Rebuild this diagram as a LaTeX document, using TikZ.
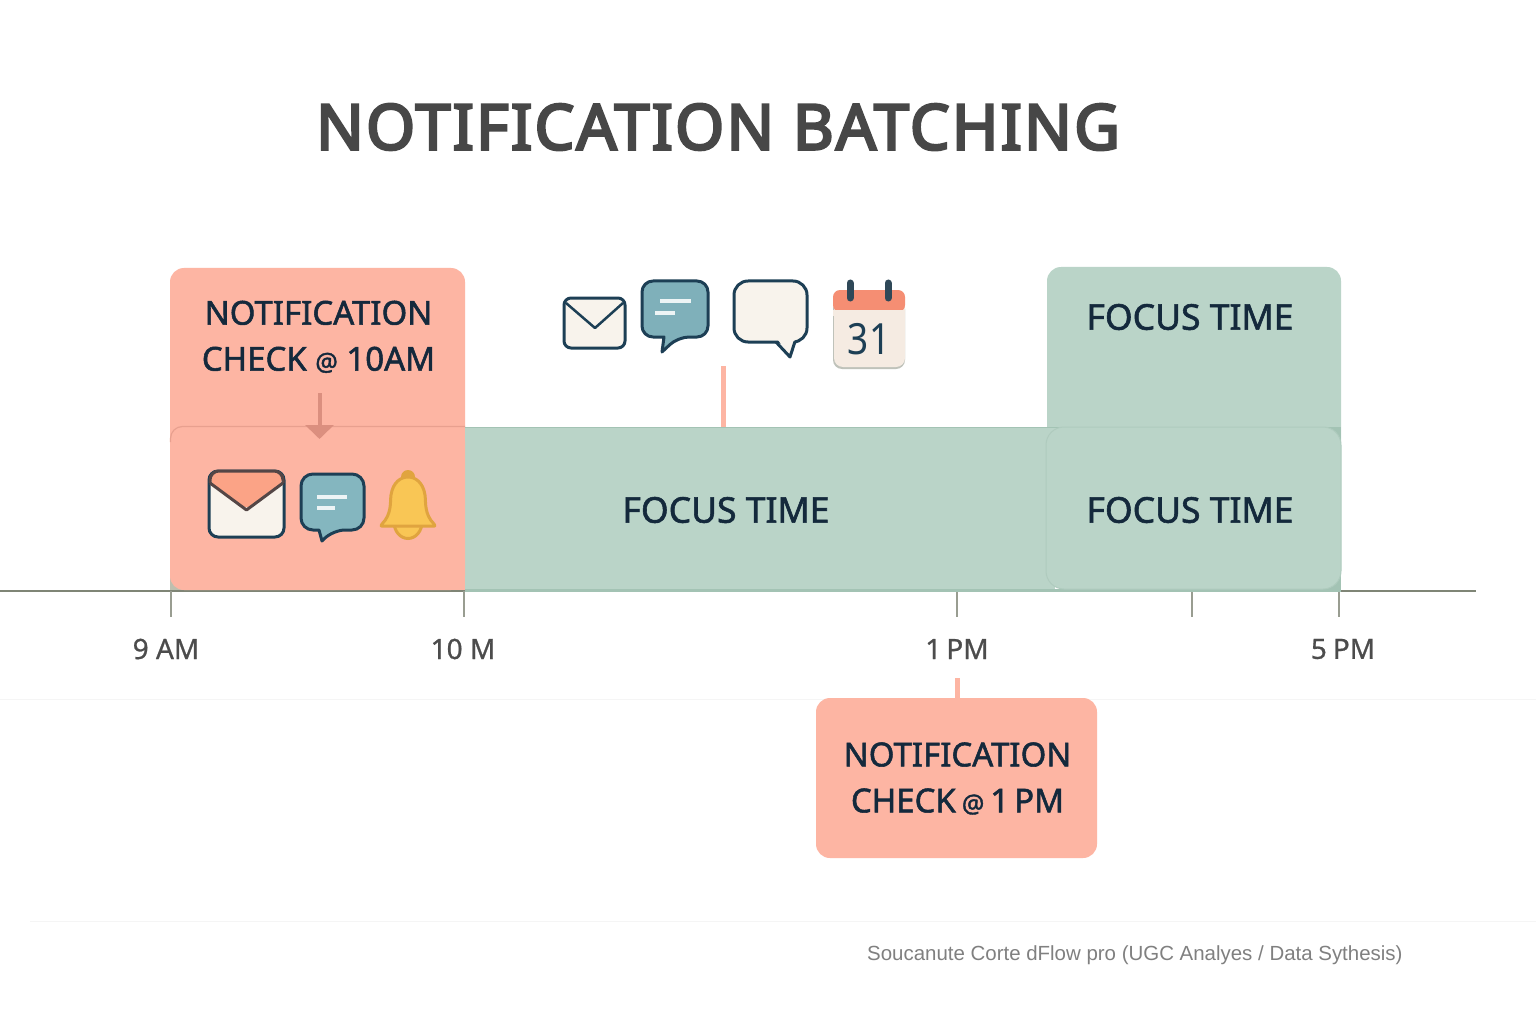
\documentclass[tikz,border=0pt]{standalone}
\usepackage{fontspec}
\setmainfont{Noto Sans}
\newfontfamily\medf[FakeBold=1.6]{Noto Sans}
\newfontfamily\tickf[FakeBold=0.8]{Noto Sans}
\newfontfamily\titlef[FakeBold=4,LetterSpace=3.4]{Noto Sans}
\newfontfamily\footf{Liberation Sans}
\usetikzlibrary{arrows.meta}
\definecolor{peach}{HTML}{FDB5A3}
\definecolor{peachd}{HTML}{E8A08F}
\definecolor{arrowc}{HTML}{DB8F7F}
\definecolor{sage}{HTML}{BAD4C8}
\definecolor{saged}{HTML}{A3C3B4}
\definecolor{ink}{HTML}{14293C}
\definecolor{navy}{HTML}{1D3F55}
\definecolor{teal}{HTML}{84B6BF}
\definecolor{cream}{HTML}{F8F3EC}
\definecolor{axisc}{HTML}{7F8576}
\definecolor{flap}{HTML}{FBA386}
\definecolor{calhead}{HTML}{F58E73}
\definecolor{calring}{HTML}{2F4858}
\definecolor{calbody}{HTML}{F5EBE2}
\definecolor{bellf}{HTML}{F9C655}
\definecolor{bells}{HTML}{E0A43F}
\newcommand{\smat}{{\fontsize{25}{25}\selectfont @}}
\tikzset{
  panel/.style={inner sep=0pt,outer sep=0pt,anchor=north west},
  peachbox/.style={panel,fill=peach,rounded corners=14pt},
  sagebox/.style={panel,fill=sage,rounded corners=14pt},
  boxtext/.style={font=\medf\fontsize{33}{46}\selectfont,text=ink,align=center,inner sep=0pt},
  focustext/.style={font=\medf\fontsize{35.5}{46}\selectfont,text=ink,align=center,inner sep=0pt},
  ticklab/.style={font=\tickf\fontsize{28}{30}\selectfont,text=black!70,inner sep=0pt},
  axisline/.style={draw=axisc,line width=2pt},
  tickline/.style={draw=axisc!80,line width=1.6pt},
  iconline/.style={draw=navy,line width=3pt,line join=round},
  faint/.style={draw=black!4,line width=1pt},
  stemline/.style={draw=peach,line width=5pt},
  barline/.style={draw=white!85!teal,line width=4pt}
}
\begin{document}
\begin{tikzpicture}[x=1pt,y=-1pt]
\useasboundingbox (0,0) rectangle (1536,1024);
\fill[white] (0,0) rectangle (1536,1024);
% faint guide lines
\draw[faint] (0,699) -- (1536,699);
\draw[faint] (30,921) -- (1536,921);
% title
\node[font=\titlef\fontsize{63}{70}\selectfont,text=black!72,inner sep=0pt] (title) at (718,127) {NOTIFICATION BATCHING};
% top boxes
\node[peachbox,minimum width=295pt,minimum height=190pt] (peachtop) at (170,268) {};
\node[sagebox,minimum width=294pt,minimum height=190pt] (sagetop) at (1047,267) {};
% axis
\draw[axisline] (0,591) coordinate (axL) -- (1476,591) coordinate (axR);
\foreach \n/\x in {a/171,b/464,c/957,d/1192,e/1339}{
  \coordinate (t\n) at (\x,591);
  \coordinate (u\n) at (\x,617);
  \draw[tickline] (t\n) -- (u\n);
}
% lower bands
\fill[saged] (1300,427) rectangle (1341,590);
\fill[saged!70!peach] (170,560) rectangle (200,590);
\fill[peach] (440,427) rectangle (465,590);
\node[panel,fill=sage,minimum width=590pt,minimum height=163pt] (sagemid) at (465,427) {};
\fill[saged] (465,589) rectangle (1341,592);
\draw[saged,line width=1pt] (465,427) -- (1341,427);
\node[sagebox,rounded corners=18pt,draw=saged!50!sage,line width=1pt,minimum width=295pt,minimum height=162pt] (sagelow) at (1046,427) {};
\node[peachbox,minimum width=295pt,minimum height=163pt] (peachlow) at (170,427) {};
\draw[peachd,line width=1.2pt,rounded corners=12pt] (170.5,442) -- (170.5,426.5) -- (465,426.5);
\node[boxtext] (t1) at (318.5,336.8) {NOTIFICATION\\CHECK \smat\ 10AM};
\node[focustext] (t2) at (1190,317) {FOCUS TIME};
\node[focustext] (t3) at (726,510) {FOCUS TIME};
\node[focustext] (t4) at (1190,510) {FOCUS TIME};
% arrow from label box to band
\coordinate (arrA) at (319.5,393);
\coordinate (arrB) at (319.5,439);
\draw[arrowc,line width=4pt,-{Triangle[length=14pt,width=28pt]}] (arrA) -- (arrB);
% pink stem
\coordinate (stA) at (723,366);
\coordinate (stB) at (723,427);
\draw[stemline] (stA) -- (stB);
% bottom box
\coordinate (stC) at (957,678);
\node[peachbox,minimum width=281pt,minimum height=160pt] (peachbot) at (816,698) {};
\draw[stemline] (stC) -- (stC |- peachbot.north);
\node[boxtext] (t5) at (957.5,778.5) {NOTIFICATION\\CHECK\hspace{6pt}\smat\hspace{6pt}1\hspace{5pt}PM};
% axis labels
\node[ticklab] (l9) at (166,649) {9 AM};
\node[ticklab] (l10) at (463,649) {10 M};
\node[ticklab] (l1) at (957,649) {1\hspace{5pt}PM};
\node[ticklab] (l5) at (1343,649) {5\hspace{6pt}PM};
% footer
\node[font=\footf\fontsize{20.45}{22}\selectfont,text=black!50,inner sep=0pt,anchor=west] (src) at (867,955) {Soucanute Corte dFlow pro (UGC Analyes / Data Sythesis)};
% envelope 1
\draw[iconline,fill=cream,rounded corners=9pt] (209,471) rectangle (284,537);
\fill[flap,rounded corners=8pt] (210,483) -- (210,472) -- (283,472) -- (283,483) -- (246.5,510) -- cycle;
\draw[iconline,draw=navy!45!peachd!60!black] (210,483) -- (246.5,510) -- (283,483);
\draw[iconline,draw=navy!45!peachd!60!black,rounded corners=9pt] (210,483) -- (210,471) -- (283,471) -- (283,483);
% bubble 1
\draw[iconline,fill=teal] (301,500) [rounded corners=12pt] -- (301,474) -- (364,474) -- (364,530) -- (333,530) [sharp corners] -- (322,541) -- (319,530) [rounded corners=12pt] -- (301,530) -- cycle;
\draw[barline] (317,497) -- (347,497);
\draw[barline] (317,508) -- (335,508);
% bell
\fill[bells] (408,477) circle (7pt);
\fill[bellf,draw=bells,line width=3pt] (408,522) ellipse (14pt and 16.5pt);
\draw[bells,fill=bellf,line width=3pt,line join=round] (382,524) .. controls (392,514) and (390,502) .. (391,495) .. controls (393,482) and (401,477) .. (408,477) .. controls (415,477) and (423,482) .. (425,495) .. controls (426,502) and (424,514) .. (434,524) .. controls (436,527) and (434,526) .. (432,526) -- (384,526) .. controls (382,526) and (380,527) .. (382,524) -- cycle;
% envelope 2
\draw[iconline,fill=cream,rounded corners=7pt] (564,298) rectangle (625,348);
\draw[iconline,line width=2.5pt] (566,303) -- (595,328) -- (623,303);
% bubble 2
\draw[iconline,fill=teal!95!navy] (642,310) [rounded corners=11pt] -- (642,281) -- (708,281) -- (708,337) -- (678,337) [sharp corners] -- (662,352) -- (664,337) [rounded corners=11pt] -- (642,337) -- cycle;
\draw[barline] (660,301) -- (691,301);
\draw[barline] (655,313) -- (675,313);
% bubble 3
\draw[iconline,fill=cream,rounded corners=14pt] (734,281) rectangle (807,342);
\fill[cream] (778,340) -- (790,356) -- (794.5,340) -- cycle;
\draw[iconline] (776,342) -- (790,357) -- (795,341.5);
% calendar
\fill[axisc!50,rounded corners=9pt] (833,300) rectangle (905,369);
\fill[calbody,rounded corners=9pt] (834,300) rectangle (905,367);
\fill[calhead,rounded corners=7pt] (833,290) rectangle (905,312);
\fill[calbody] (833,310) rectangle (905,316);
\draw[calring,line width=7pt,line cap=round] (850,283) -- (850,298);
\draw[calring,line width=7pt,line cap=round] (888,283) -- (888,298);
\node[font=\fontsize{43}{45}\selectfont,text=navy,inner sep=0pt] (cal) at (869,339) {\scalebox{.86}[1]{31}};
\end{tikzpicture}
\end{document}
